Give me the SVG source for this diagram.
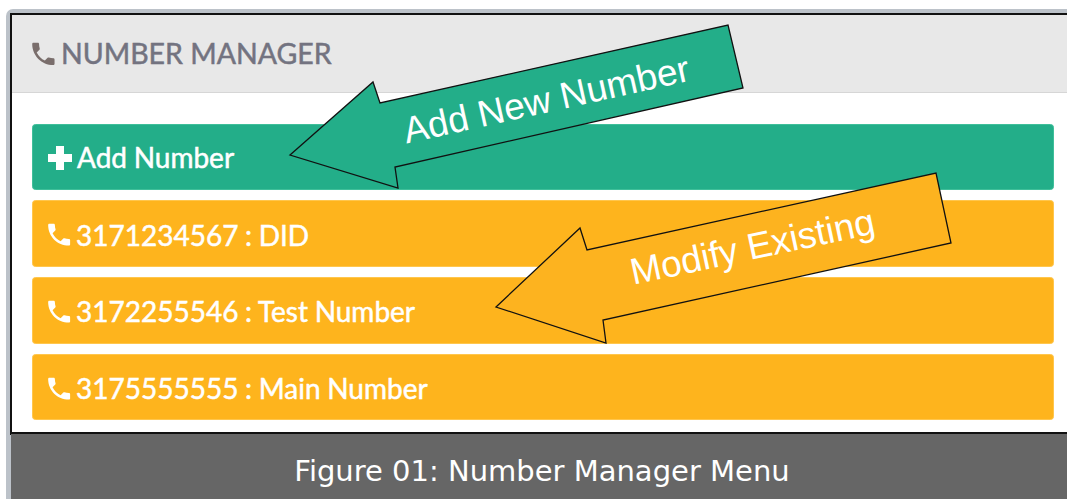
<svg xmlns="http://www.w3.org/2000/svg" width="1067" height="499" viewBox="0 0 1067 499">
<defs>
<style>
.ui{font-family:Lato,"Open Sans","Liberation Sans",sans-serif;font-size:28px;fill:#fff;stroke:#fff;stroke-width:0.5;word-spacing:-0.5px}
.hdr{font-family:Lato,"Open Sans","Liberation Sans",sans-serif;font-size:28.5px;fill:#737380;stroke:#737380;stroke-width:0.5}
.callout{font-family:"Liberation Sans",Arial,sans-serif;font-size:37px;fill:#fff}
.cap{font-family:"DejaVu Sans",Verdana,sans-serif;font-size:29px;fill:#fff}
.green{fill:#23ae89;stroke:#3fbf9a;stroke-width:1}
.orange{fill:#feb41d;stroke:#ffc64d;stroke-width:1}
.arrow{stroke:#111;stroke-width:1.3;stroke-linejoin:miter}
</style>
<path id="phone" d="M6.62 10.79c1.44 2.83 3.76 5.14 6.59 6.59l2.2-2.2c.27-.27.67-.36 1.02-.24 1.120.37 2.33.57 3.570.57.55 0 1 .45 1 1V20c0 .55-.45 1-1 1-9.39 0-17-7.61-17-17 0-.55.45-1 1-1h3.5c.55 0 1 .45 1 1 0 1.25.2 2.45.57 3.57.11.35.03.74-.25 1.020l-2.2 2.2z"/>
</defs>
<rect x="0" y="0" width="1067" height="499" fill="#fff"/>
<g id="frame">
<rect x="6" y="9" width="1080" height="510" rx="7" fill="#bcc2c9"/>
<rect x="10" y="13" width="1070" height="422" fill="#111"/>
<rect x="12" y="15" width="1060" height="78" fill="#e8e8e8"/>
<rect x="12" y="92" width="1060" height="1" fill="#d6d6d6"/>
<rect x="12" y="93" width="1060" height="339" fill="#fff"/>
</g>
<g id="header">
<use href="#phone" transform="translate(28.5,39) scale(1.24)" fill="#7a6e6c"/>
<text class="hdr" x="61" y="64">NUMBER MANAGER</text>
</g>
<g id="add-number">
<rect class="green" x="32.5" y="124.5" width="1021" height="65" rx="3"/>
<path d="M56 146h8v8h8v8h-8v8h-8v-8h-8v-8h8z" fill="#fff"/>
<text class="ui" x="77" y="168">Add Number</text>
</g>
<g id="num-did">
<rect class="orange" x="32.5" y="200.5" width="1021" height="66" rx="3"/>
<use href="#phone" transform="translate(44.5,220) scale(1.22)" fill="#fff"/>
<text class="ui" x="76" y="246">3171234567 : DID</text>
</g>
<g id="num-test">
<rect class="orange" x="32.5" y="277.5" width="1021" height="66" rx="3"/>
<use href="#phone" transform="translate(44.5,297) scale(1.22)" fill="#fff"/>
<text class="ui" x="76" y="322">3172255546 : Test Number</text>
</g>
<g id="num-main">
<rect class="orange" x="32.5" y="354.5" width="1021" height="65" rx="3"/>
<use href="#phone" transform="translate(44.5,374) scale(1.22)" fill="#fff"/>
<text class="ui" x="76" y="399">3175555555 : Main Number</text>
</g>
<g id="caption">
<rect x="11" y="432" width="1060" height="2" fill="#111"/>
<rect x="11" y="434" width="1060" height="70" fill="#666"/>
<text class="cap" x="542" y="481" text-anchor="middle">Figure 01: Number Manager Menu</text>
</g>
<g id="connectors">
<g id="arrow-add">
<polygon class="arrow" fill="#23ae89" points="290,155 373,82 380,103 728,25 743,88 395,167 398,188"/>
<text class="callout" transform="translate(549,112) rotate(-12.5)" text-anchor="middle">Add New Number</text>
</g>
<g id="arrow-modify">
<polygon class="arrow" fill="#fdb31f" points="496,307 580,228 587,250 936,173 951,243 603,320 606,343"/>
<text class="callout" transform="translate(755,259) rotate(-12)" text-anchor="middle">Modify Existing</text>
</g>
</g>
</svg>
